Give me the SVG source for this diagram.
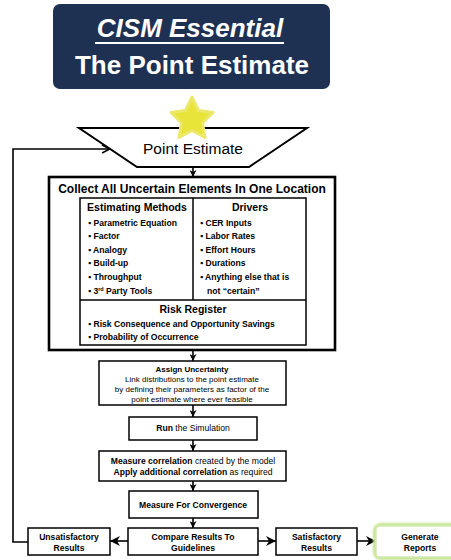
<svg xmlns="http://www.w3.org/2000/svg" width="451" height="560" viewBox="0 0 451 560">
<style>
text{font-family:"Liberation Sans",Arial,sans-serif;fill:#000}
.b{font-weight:bold}
.hd{font-size:10.5px;font-weight:bold;text-anchor:middle}
.li{font-size:8.6px;font-weight:bold}
.fl{font-size:8.6px;text-anchor:middle}
.sm{font-size:8px;text-anchor:middle}
.box{fill:#fff;stroke:#000;stroke-width:1.5}
.con{fill:none;stroke:#000;stroke-width:1.6}
</style>
<defs>
<marker id="ah" markerUnits="userSpaceOnUse" markerWidth="7" markerHeight="7" refX="7" refY="3.5" orient="auto">
<path d="M0,0 L7,3.5 L0,7 L2,3.5 z" fill="#000"/>
</marker>
<marker id="ahb" markerUnits="userSpaceOnUse" markerWidth="10" markerHeight="10" refX="10" refY="5" orient="auto">
<path d="M0,0 L10,5 L0,10 L3,5 z" fill="#000"/>
</marker>
<marker id="aho" markerUnits="userSpaceOnUse" markerWidth="10" markerHeight="10" refX="9" refY="5" orient="auto">
<path d="M1,1 L9,5 L1,9" fill="none" stroke="#000" stroke-width="1.5"/>
</marker>
<filter id="glow" x="-20%" y="-40%" width="140%" height="180%">
<feGaussianBlur stdDeviation="1.2"/>
</filter>
</defs>

<g id="title">
<rect x="53" y="4" width="277" height="85" rx="7" fill="#1e3152"/>
<text x="190" y="37" font-size="26" font-weight="bold" font-style="italic" text-anchor="middle" style="fill:#fff">CISM Essential</text>
<rect x="95" y="42" width="189" height="2" fill="#fff"/>
<text x="192" y="74" font-size="26" font-weight="bold" text-anchor="middle" style="fill:#fff">The Point Estimate</text>
</g>

<g id="connectors">
<line class="con" x1="193" y1="167" x2="193" y2="177" marker-end="url(#ah)"/>
<line class="con" x1="193" y1="350" x2="193" y2="361" marker-end="url(#ah)"/>
<line class="con" x1="193" y1="405" x2="193" y2="417" marker-end="url(#ah)"/>
<line class="con" x1="193" y1="440" x2="193" y2="451" marker-end="url(#ah)"/>
<line class="con" x1="193" y1="481" x2="193" y2="491" marker-end="url(#ah)"/>
<line class="con" x1="193" y1="518" x2="193" y2="528" marker-end="url(#ah)"/>
<line class="con" x1="128" y1="541" x2="110" y2="541" stroke-width="2" marker-end="url(#ahb)"/>
<line class="con" x1="258" y1="541" x2="276" y2="541" stroke-width="2" marker-end="url(#ahb)"/>
<line class="con" x1="357" y1="541" x2="376" y2="541" stroke-width="2" marker-end="url(#ahb)"/>
<polyline class="con" points="28,542 13,542 13,149 110,149" stroke-width="2" marker-end="url(#aho)"/>
</g>

<g id="point-estimate">
<polygon points="79,128 307,128 249,167 137,167" fill="#fff" stroke="#000" stroke-width="2"/>
<text x="193" y="154" font-size="15.5" text-anchor="middle">Point Estimate</text>
</g>

<g id="star">
<polygon points="192,97 198.5,110.5 213,112.5 202.5,123 205,137.5 192,130.5 179,137.5 181.5,123 171,112.5 185.5,110.5" fill="#e9e43a" stroke="#ece86a" stroke-width="3" stroke-linejoin="round"/>
</g>

<g id="collect">
<rect x="49" y="177" width="286" height="173" fill="#fff" stroke="#000" stroke-width="2.6"/>
<text x="192" y="193" font-size="12" class="b" text-anchor="middle">Collect All Uncertain Elements In One Location</text>
<rect x="80" y="198" width="226" height="147" fill="none" stroke="#000" stroke-width="1.5"/>
<line x1="193" y1="198" x2="193" y2="300" stroke="#000" stroke-width="1.5"/>
<line x1="80" y1="300" x2="306" y2="300" stroke="#000" stroke-width="1.5"/>
</g>

<g id="estimating-methods">
<text x="137" y="211" class="hd">Estimating Methods</text>
<text x="88" y="226" class="li">▪ Parametric Equation</text>
<text x="88" y="239" class="li">▪ Factor</text>
<text x="88" y="253" class="li">▪ Analogy</text>
<text x="88" y="266" class="li">▪ Build-up</text>
<text x="88" y="280" class="li">▪ Throughput</text>
<text x="88" y="294" class="li">▪ 3<tspan font-size="5.5" dy="-3">rd</tspan><tspan dy="3"> Party Tools</tspan></text>
</g>

<g id="drivers">
<text x="250" y="211" class="hd">Drivers</text>
<text x="200" y="226" class="li">▪ CER Inputs</text>
<text x="200" y="239" class="li">▪ Labor Rates</text>
<text x="200" y="253" class="li">▪ Effort Hours</text>
<text x="200" y="266" class="li">▪ Durations</text>
<text x="200" y="280" class="li">▪ Anything else that is</text>
<text x="207" y="294" class="li">not “certain”</text>
</g>

<g id="risk-register">
<text x="193" y="313" class="hd">Risk Register</text>
<text x="88" y="327" class="li">▪ Risk Consequence and Opportunity Savings</text>
<text x="88" y="340" class="li">▪ Probability of Occurrence</text>
</g>

<g id="assign-uncertainty">
<rect class="box" x="99" y="361" width="187" height="44"/>
<text x="192" y="372" class="sm b">Assign Uncertainty</text>
<text x="192" y="382" class="sm">Link distributions to the point estimate</text>
<text x="192" y="392" class="sm">by defining their parameters as factor of the</text>
<text x="192" y="401.5" class="sm">point estimate where ever feasible</text>
</g>

<g id="run-simulation">
<rect class="box" x="129" y="417" width="128" height="23"/>
<text x="193" y="431" class="fl"><tspan class="b">Run</tspan> the Simulation</text>
</g>

<g id="measure-correlation">
<rect class="box" x="99" y="451" width="187" height="30"/>
<text x="193" y="464" class="fl"><tspan class="b">Measure correlation</tspan> created by the model</text>
<text x="193" y="475" class="fl"><tspan class="b">Apply additional correlation</tspan> as required</text>
</g>

<g id="convergence">
<rect class="box" x="129" y="491" width="129" height="27"/>
<text x="193" y="508" class="fl b">Measure For Convergence</text>
</g>

<g id="compare">
<rect class="box" x="128" y="528" width="130" height="27"/>
<text x="193" y="540" class="fl b">Compare Results To</text>
<text x="193" y="551" class="fl b">Guidelines</text>
</g>

<g id="unsatisfactory">
<rect class="box" x="28" y="528" width="82" height="27"/>
<text x="69" y="540" class="fl b">Unsatisfactory</text>
<text x="69" y="551" class="fl b">Results</text>
</g>

<g id="satisfactory">
<rect class="box" x="276" y="528" width="81" height="27"/>
<text x="316.5" y="540" class="fl b">Satisfactory</text>
<text x="316.5" y="551" class="fl b">Results</text>
</g>

<g id="generate-reports">
<rect x="376" y="526" width="82" height="31" rx="5" fill="none" stroke="#c3e38f" stroke-width="6" filter="url(#glow)"/>
<rect x="376" y="526" width="82" height="31" rx="4" fill="#fff" stroke="#d4ebb0" stroke-width="1.5"/>
<text x="420" y="540" class="fl b">Generate</text>
<text x="420" y="551" class="fl b">Reports</text>
</g>
</svg>
